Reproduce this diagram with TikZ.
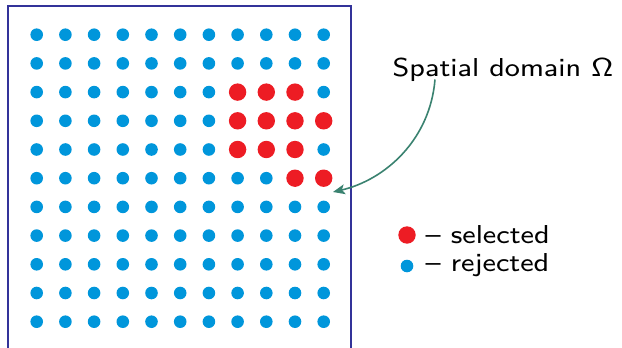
\RequirePackage{fix-cm}
\documentclass[tikz,border=0pt]{standalone}
\usepackage{amsmath}
\usepackage{tikz}
\usetikzlibrary{arrows.meta}
\usepackage{xcolor}

\definecolor{dotblue}{RGB}{0,150,219}
\definecolor{dotred}{RGB}{237,28,36}
\definecolor{framecol}{RGB}{51,51,153}
\definecolor{arrowgreen}{RGB}{58,130,112}

\begin{document}
\begin{tikzpicture}[x=1pt, y=-1pt,
  rejected/.style={fill=dotblue},
  selected/.style={fill=dotred},
  label/.style={inner sep=0pt, anchor=base west, transform shape,
    xscale=3.55, yscale=3.24, font=\sffamily\fontsize{8}{10}\selectfont}]
\useasboundingbox (0,0) rectangle (622,348);
% domain boundary
\draw[framecol, line width=2.7pt] (8,6) rectangle (351,370);
% grid of points
\foreach \i in {0,...,10}
  \foreach \j in {0,...,10}
    \fill[rejected] (36.7+28.7*\i, 34.7+28.7*\j) circle (6.3);
\foreach \i/\j in {7/2,8/2,9/2,7/3,8/3,9/3,10/3,7/4,8/4,9/4,9/5,10/5}
  \fill[selected] (36.7+28.7*\i, 34.7+28.7*\j) circle (8.7);
% label with arrow
\node[label] (domain) at (392,76.5) {Spatial domain $\mathsf{\Omega}$};
\coordinate (tip) at (333,192);
\draw[arrowgreen, line width=1.6pt, -{Stealth[length=12pt, width=10pt, inset=3pt]}]
  ([shift={(43,3)}]domain.base west) .. controls (430,140) and (385,180) .. (tip);
% legend
\fill[selected] (407,235) circle (8.7);
\node[label] (sel) at (425,243.3) {-- selected};
\fill[rejected] (407,266) circle (6.3);
\node[label] (rej) at (425,271.5) {-- rejected};
\end{tikzpicture}
\end{document}
